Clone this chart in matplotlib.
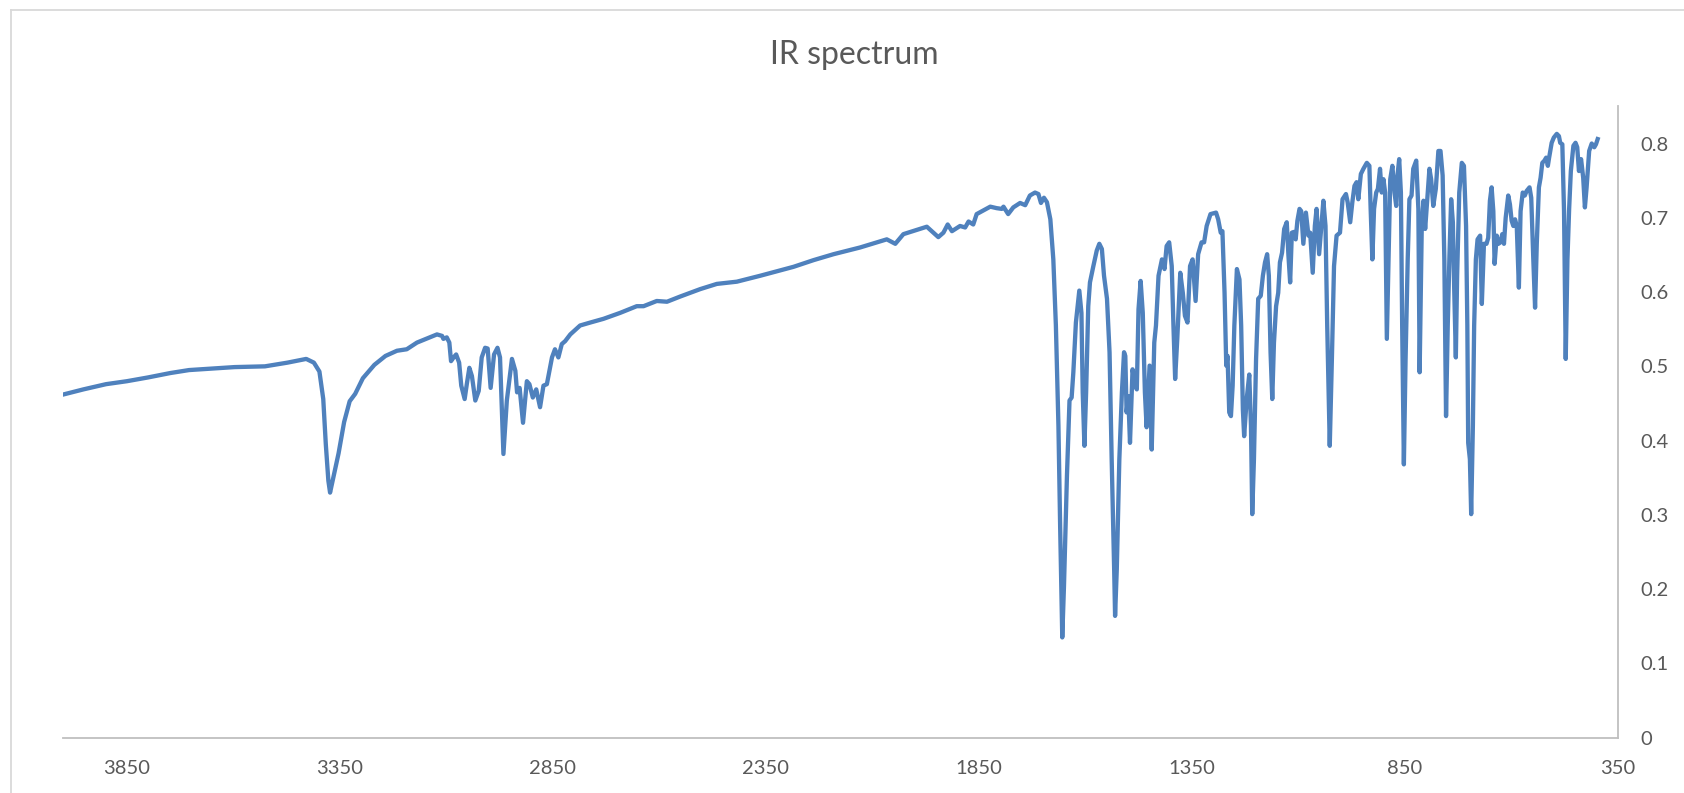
import matplotlib
matplotlib.use("Agg")
import matplotlib.pyplot as plt
from matplotlib.lines import Line2D

# wavenumber (cm-1) and signal
wavenumber = [
    4000, 3952, 3899, 3850, 3801, 3748, 3704, 3651, 3597, 3526, 3473, 3429, 3411, 3398,
    3389, 3383, 3377, 3373, 3367,
    3353, 3340, 3327, 3314, 3296, 3269, 3243, 3216, 3193, 3169, 3122, 3110, 3107, 3099,
    3093, 3089, 3083, 3077, 3070, 3065, 3057, 3052, 3046, 3040, 3032, 3024, 3017, 3009,
    3003, 2996, 2988, 2980, 2974, 2966, 2958, 2946, 2938, 2934, 2928, 2920, 2911, 2905,
    2897, 2889, 2880, 2872, 2864, 2852, 2845, 2837, 2829, 2821, 2809, 2786, 2762, 2731,
    2692, 2653, 2637, 2606, 2582, 2551, 2504, 2465, 2418, 2363, 2285, 2238, 2191, 2129,
    2066, 2046, 2027, 1972, 1945, 1933, 1923, 1913, 1894, 1882, 1874, 1863, 1855, 1839,
    1823, 1808, 1796, 1792, 1781, 1769, 1753, 1741, 1730, 1718, 1710, 1704, 1697, 1690,
    1682, 1675, 1669, 1663, 1659, 1654, 1650, 1643, 1637, 1632, 1628, 1622, 1614, 1609,
    1606, 1602, 1598, 1593, 1589, 1581, 1573, 1567, 1561, 1556, 1549, 1543, 1538, 1532,
    1530, 1526, 1520, 1514, 1509, 1506, 1503, 1499, 1495, 1489, 1483, 1479, 1475, 1470,
    1465, 1460, 1456, 1449, 1444, 1438, 1434, 1428, 1420, 1414, 1409, 1403, 1397, 1393,
    1389, 1384, 1377, 1371, 1366, 1360, 1354, 1348, 1341, 1335, 1327, 1321, 1315, 1306,
    1293, 1288, 1282, 1278, 1273, 1269, 1266, 1262, 1258, 1254, 1250, 1244, 1238, 1234,
    1230, 1227, 1221, 1215, 1211, 1208, 1204, 1199, 1194, 1188, 1183, 1178, 1173, 1169,
    1165, 1161, 1157, 1152, 1147, 1143, 1138, 1133, 1127, 1123, 1119, 1115, 1110, 1106,
    1102, 1097, 1093, 1088, 1082, 1076, 1072, 1066, 1061, 1057, 1051, 1047, 1041, 1036,
    1032, 1026, 1021, 1016, 1010, 1002, 996, 988, 984, 978, 973, 968, 963, 959, 953,
    947, 939, 933, 930, 926, 922, 917, 913, 908, 904, 900, 896, 892, 888, 884, 879, 874,
    870, 867, 863, 859, 856, 852, 848, 843, 839, 834, 830, 823, 818, 815, 810, 806, 802,
    797, 792, 788, 783, 777, 771, 766, 761, 757, 753, 749, 745, 741, 737, 734, 730, 727,
    722, 716, 711, 706, 703, 701, 697, 694, 690, 687, 683, 679, 673, 669, 664, 658, 654,
    650, 646, 642, 639, 634, 630, 625, 621, 617, 613, 607, 603, 599, 595, 591, 587, 582,
    578, 573, 568, 564, 557, 553, 548, 544, 540, 535, 531, 527, 522, 518, 514, 511, 505,
    500, 493, 488, 485, 480, 476, 472, 468, 464, 460, 454, 449, 445, 441, 436, 431, 427,
    423, 417, 411, 405, 401, 397,
]
signal = [
    0.462, 0.469, 0.476, 0.480, 0.485, 0.491, 0.495, 0.497, 0.499, 0.500, 0.505, 0.510, 0.505, 0.493,
    0.456, 0.395, 0.346, 0.330, 0.346,
    0.383, 0.425, 0.453, 0.463, 0.484, 0.502, 0.514, 0.521, 0.523, 0.532, 0.543, 0.541, 0.537, 0.539,
    0.532, 0.507, 0.512, 0.516, 0.505, 0.474, 0.456, 0.476, 0.498, 0.487, 0.454, 0.467, 0.512, 0.525,
    0.524, 0.471, 0.516, 0.525, 0.512, 0.382, 0.454, 0.510, 0.494, 0.465, 0.471, 0.424, 0.480, 0.476,
    0.458, 0.469, 0.445, 0.474, 0.476, 0.512, 0.523, 0.512, 0.530, 0.534, 0.543, 0.555, 0.559, 0.564,
    0.572, 0.581, 0.581, 0.588, 0.587, 0.594, 0.604, 0.611, 0.614, 0.622, 0.634, 0.643, 0.651, 0.660,
    0.671, 0.665, 0.678, 0.688, 0.674, 0.680, 0.691, 0.682, 0.689, 0.687, 0.695, 0.691, 0.705, 0.710,
    0.715, 0.713, 0.712, 0.715, 0.705, 0.714, 0.720, 0.717, 0.730, 0.734, 0.732, 0.720, 0.727, 0.721,
    0.698, 0.644, 0.555, 0.420, 0.285, 0.135, 0.204, 0.353, 0.454, 0.458, 0.492, 0.559, 0.602, 0.572,
    0.465, 0.393, 0.465, 0.581, 0.613, 0.635, 0.656, 0.665, 0.658, 0.622, 0.591, 0.519, 0.375, 0.222,
    0.164, 0.227, 0.375, 0.465, 0.519, 0.514, 0.438, 0.460, 0.397, 0.496, 0.474, 0.469, 0.577, 0.615,
    0.572, 0.465, 0.418, 0.501, 0.388, 0.532, 0.555, 0.622, 0.644, 0.631, 0.662, 0.667, 0.635, 0.555,
    0.483, 0.537, 0.626, 0.599, 0.568, 0.559, 0.635, 0.644, 0.588, 0.651, 0.667, 0.667, 0.689, 0.705,
    0.707, 0.698, 0.680, 0.682, 0.599, 0.501, 0.514, 0.438, 0.433, 0.474, 0.555, 0.631, 0.617, 0.555,
    0.442, 0.406, 0.456, 0.489, 0.420, 0.301, 0.375, 0.510, 0.591, 0.595, 0.622, 0.640, 0.651, 0.622,
    0.519, 0.456, 0.532, 0.581, 0.599, 0.640, 0.653, 0.685, 0.694, 0.649, 0.613, 0.680, 0.681, 0.671,
    0.696, 0.712, 0.709, 0.665, 0.707, 0.676, 0.680, 0.626, 0.689, 0.712, 0.651, 0.680, 0.723, 0.689,
    0.555, 0.393, 0.510, 0.635, 0.676, 0.680, 0.725, 0.732, 0.721, 0.694, 0.721, 0.743, 0.748, 0.725, 0.759,
    0.766, 0.774, 0.770, 0.712, 0.644, 0.712, 0.734, 0.739, 0.766, 0.734, 0.752, 0.734, 0.537, 0.644, 0.752, 0.770, 0.734,
    0.716, 0.757, 0.779, 0.734, 0.555, 0.368, 0.510, 0.644, 0.725, 0.730, 0.766, 0.777, 0.712, 0.492, 0.689, 0.723, 0.685,
    0.725, 0.766, 0.752, 0.716, 0.739, 0.790, 0.790, 0.757, 0.644, 0.433, 0.555, 0.649, 0.725, 0.694, 0.608, 0.512, 0.622,
    0.734, 0.774, 0.770, 0.689, 0.555, 0.397, 0.375, 0.301, 0.420, 0.555, 0.644, 0.671, 0.676, 0.584, 0.665, 0.665, 0.673,
    0.723, 0.741, 0.709, 0.638, 0.676, 0.665, 0.667, 0.678, 0.665, 0.700, 0.730, 0.718, 0.696, 0.689, 0.698, 0.689, 0.606,
    0.709, 0.734, 0.730, 0.736, 0.741, 0.727, 0.642, 0.579, 0.665, 0.741, 0.754, 0.774, 0.777, 0.781, 0.770, 0.781, 0.801,
    0.808, 0.813, 0.810, 0.801, 0.799, 0.709, 0.510, 0.644, 0.712, 0.763, 0.797, 0.801, 0.795, 0.763, 0.779, 0.754, 0.714,
    0.741, 0.790, 0.800, 0.795, 0.799, 0.806,
]

x_ticks = [3850, 3350, 2850, 2350, 1850, 1350, 850, 350]
y_ticks = [0, 0.1, 0.2, 0.3, 0.4, 0.5, 0.6, 0.7, 0.8]

text_color = "#595959"
axis_color = "#BFBFBF"
plt.rcParams["font.family"] = ["Lato", "DejaVu Sans"]

fig = plt.figure(figsize=(16.84, 7.93), dpi=100)
ax = fig.add_axes([63 / 1684, 1 - 737.7 / 793, (1617.7 - 63) / 1684, (737.7 - 106.4) / 793])

ax.plot(wavenumber, signal, color="#4F81BD", lw=3.1, solid_joinstyle="round")

ax.set_xlim(4000, 350)
ax.set_ylim(0, 0.85)
ax.set_xticks(x_ticks)
ax.set_xticklabels([str(t) for t in x_ticks])
ax.set_yticks(y_ticks)
ax.set_yticklabels(["0"] + [f"{t:.1f}" for t in y_ticks[1:]])
ax.yaxis.tick_right()

for side in ["left", "top"]:
    ax.spines[side].set_visible(False)
for side in ["right", "bottom"]:
    ax.spines[side].set_color(axis_color)
    ax.spines[side].set_linewidth(1.3)

ax.tick_params(axis="x", length=0, pad=16, labelsize=14.5, labelcolor=text_color)
ax.tick_params(axis="y", length=0, pad=16, labelsize=14.5, labelcolor=text_color)

fig.text(854.5 / 1684, 1 - 64 / 793, "IR spectrum", ha="center", va="baseline",
         fontsize=23, color=text_color)

# chart area border (only the left and top edges fall inside the picture)
fig.add_artist(Line2D([11 / 1684, 11 / 1684], [0, 1 - 10 / 793], color="#D9D9D9", lw=1.3))
fig.add_artist(Line2D([11 / 1684, 1], [1 - 10 / 793, 1 - 10 / 793], color="#D9D9D9", lw=1.3))

fig.savefig("out.png", dpi=100, facecolor="white")
